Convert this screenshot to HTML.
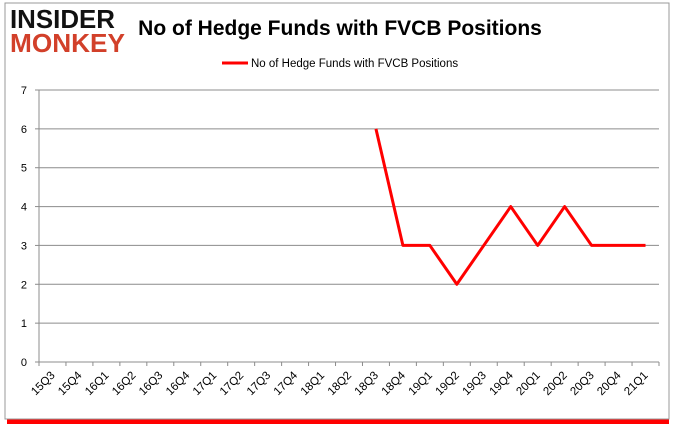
<!DOCTYPE html>
<html><head><meta charset="utf-8"><style>
body{margin:0;background:#fff;width:680px;height:433px;overflow:hidden;font-family:"Liberation Sans",sans-serif}
</style></head><body>
<svg width="680" height="433">
<rect x="7" y="418" width="662" height="6" fill="#f00"/>
<rect x="5" y="3" width="664" height="416" fill="#fff" stroke="#999"/>
<text x="10" y="20.7" font-size="19" font-weight="bold" fill="#111" font-family="Liberation Sans" textLength="105" lengthAdjust="spacingAndGlyphs" style="transform:scale(1,1.35);transform-origin:0 0">INSIDER</text>
<text x="10" y="38.5" font-size="19" font-weight="bold" fill="#d2402a" font-family="Liberation Sans" textLength="115" lengthAdjust="spacingAndGlyphs" style="transform:scale(1,1.35);transform-origin:0 0">MONKEY</text>
<text x="340" y="35" font-size="21" font-weight="bold" text-anchor="middle" fill="#000">No of Hedge Funds with FVCB Positions</text>
<line x1="222" y1="63" x2="248" y2="63" stroke="#f00" stroke-width="3"/>
<text x="251" y="67" font-size="11.5" fill="#000">No of Hedge Funds with FVCB Positions</text>
<g id="grid"></g><g id="axes"></g>
<polyline id="line" fill="none" stroke="#f00" stroke-width="3" stroke-linejoin="round"/>
</svg>
<script>
const categories=["15Q3","15Q4","16Q1","16Q2","16Q3","16Q4","17Q1","17Q2","17Q3","17Q4","18Q1","18Q2","18Q3","18Q4","19Q1","19Q2","19Q3","19Q4","20Q1","20Q2","20Q3","20Q4","21Q1"];
const values=[null,null,null,null,null,null,null,null,null,null,null,null,6,3,3,2,3,4,3,4,3,3,3];
const yTicks=[0,1,2,3,4,5,6,7];
const NS="http://www.w3.org/2000/svg";
const x0=39,x1=659,y0=362,yTop=90;
const step=(x1-x0)/categories.length;
const xs=i=>x0+step*(i+0.5);
const ys=v=>y0-(y0-yTop)*v/7;
const grid=document.getElementById('grid'),axes=document.getElementById('axes');
function mk(t,a,p){const e=document.createElementNS(NS,t);for(const k in a)e.setAttribute(k,a[k]);p.appendChild(e);return e;}
yTicks.forEach(v=>{
 if(v>0){const g=mk('line',{x1:x0,x2:x1,y1:ys(v),y2:ys(v),stroke:'#8c8c8c'},grid);
 
 }
 const tk=mk('line',{x1:x0-4,x2:x0,y1:ys(v),y2:ys(v),stroke:'#8c8c8c'},axes);
 
 
 const t=mk('text',{x:x0-12,y:ys(v)+4,'font-size':11,'text-anchor':'end'},axes);t.textContent=v;
 
 
});
const ya=mk('line',{x1:x0,x2:x0,y1:yTop,y2:y0,stroke:'#8c8c8c'},axes);


const xa=mk('line',{x1:x0,x2:x1,y1:y0,y2:y0,stroke:'#8c8c8c'},axes);


for(let i=0;i<=categories.length;i++){
 const tk=mk('line',{x1:x0+step*i,x2:x0+step*i,y1:y0,y2:y0+4,stroke:'#8c8c8c'},axes);
 
 
}
categories.forEach((c,i)=>{
 const x=xs(i)+3,y=y0+14;
 const t=mk('text',{x:x,y:y,'font-size':11.5,'text-anchor':'end',transform:`rotate(-45 ${x} ${y})`},axes);t.textContent=c;
 
 
});
const pts=[];values.forEach((v,i)=>{if(v!==null)pts.push(xs(i)+','+ys(v));});
document.getElementById('line').setAttribute('points',pts.join(' '));
</script>
</body></html>
